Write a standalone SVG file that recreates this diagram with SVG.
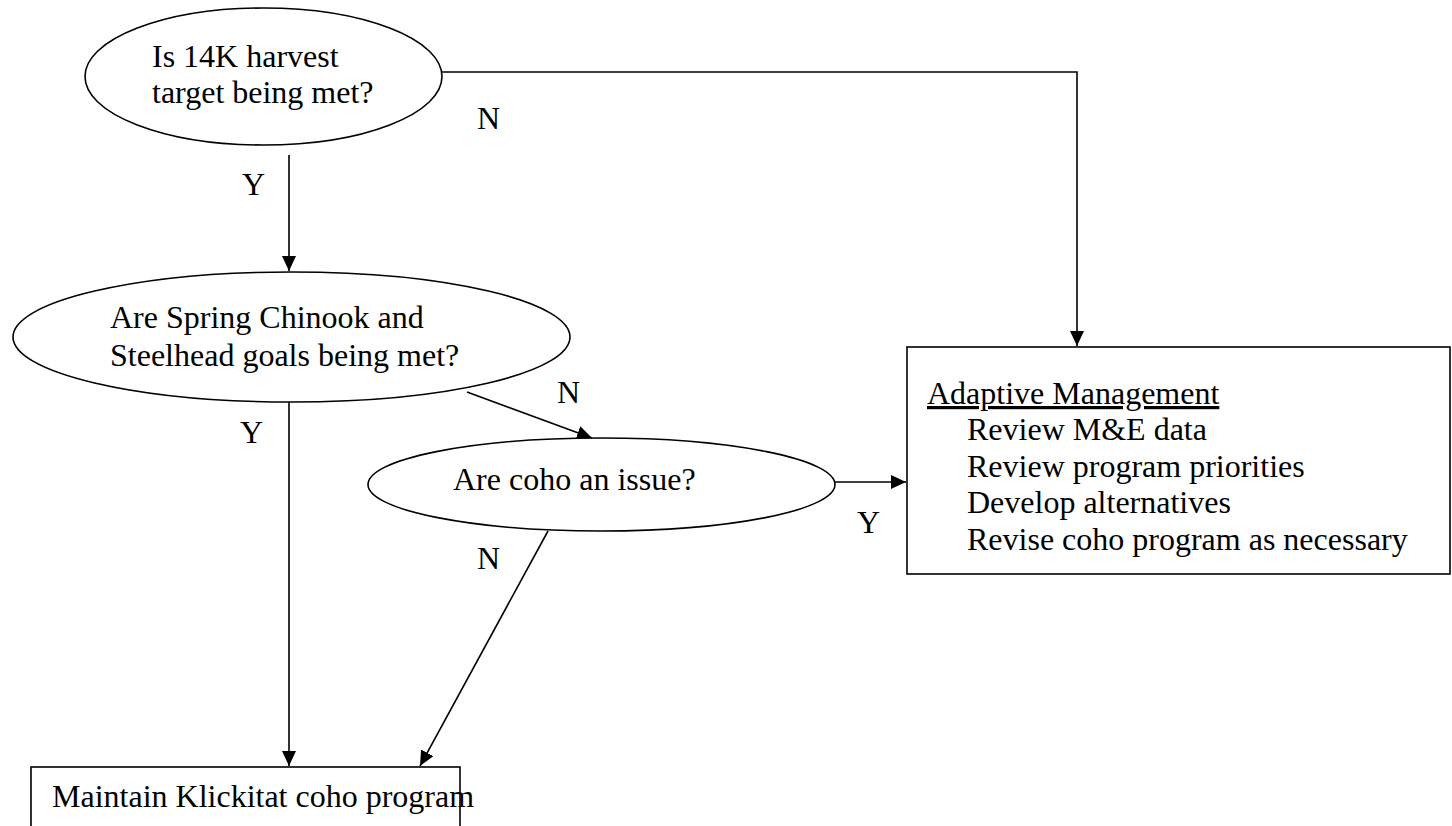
<svg xmlns="http://www.w3.org/2000/svg" width="1452" height="826" viewBox="0 0 1452 826">
<style>
.shape{fill:#fff;stroke:#000;stroke-width:1.6}
.conn{fill:none;stroke:#000;stroke-width:1.6}
text{font-family:"Liberation Serif","Times New Roman",serif;font-size:32px;fill:#000}
</style>
<defs>
<marker id="ah" markerUnits="userSpaceOnUse" markerWidth="16" markerHeight="16" refX="15" refY="7" orient="auto">
<path d="M0,0 L15,7 L0,14 z" fill="#000"/>
</marker>
</defs>
<rect width="1452" height="826" fill="#fff"/>
<g id="connectors">
<line class="conn" x1="289" y1="155" x2="289" y2="271" marker-end="url(#ah)"/>
<polyline class="conn" points="442,72 1077,72 1077,346" marker-end="url(#ah)"/>
<line class="conn" x1="467" y1="392" x2="592" y2="438" marker-end="url(#ah)"/>
<line class="conn" x1="835" y1="482" x2="906" y2="482" marker-end="url(#ah)"/>
<line class="conn" x1="289" y1="402" x2="289" y2="766" marker-end="url(#ah)"/>
<line class="conn" x1="548" y1="531" x2="420" y2="766" marker-end="url(#ah)"/>
<text x="477" y="129">N</text>
<text x="242" y="195">Y</text>
<text x="240" y="443">Y</text>
<text x="557" y="403">N</text>
<text x="857" y="533">Y</text>
<text x="477" y="569">N</text>
</g>
<g id="q1">
<ellipse class="shape" cx="263.5" cy="76.5" rx="178.5" ry="68.5"/>
<text x="152" y="67">Is 14K harvest</text>
<text x="152" y="103">target being met?</text>
</g>
<g id="q2">
<ellipse class="shape" cx="291.5" cy="337" rx="278.5" ry="65"/>
<text x="110" y="328">Are Spring Chinook and</text>
<text x="110" y="366">Steelhead goals being met?</text>
</g>
<g id="q3">
<ellipse class="shape" cx="601.5" cy="484.5" rx="233.5" ry="46.5"/>
<text x="453" y="490">Are coho an issue?</text>
</g>
<g id="adaptive">
<rect class="shape" x="907" y="347" width="543" height="227"/>
<text x="927" y="404" text-decoration="underline">Adaptive Management</text>
<text x="967" y="440">Review M&amp;E data</text>
<text x="967" y="477">Review program priorities</text>
<text x="967" y="513">Develop alternatives</text>
<text x="967" y="550">Revise coho program as necessary</text>
</g>
<g id="maintain">
<rect class="shape" x="31" y="767" width="429" height="70"/>
<text x="52" y="807">Maintain Klickitat coho program</text>
</g>
</svg>
